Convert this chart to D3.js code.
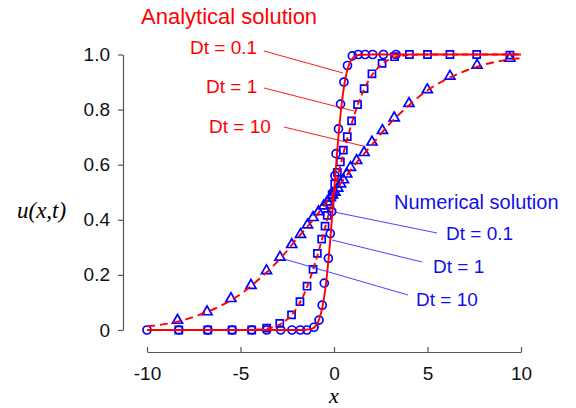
<!DOCTYPE html>
<html>
<head>
<meta charset="utf-8">
<script src="https://cdn.jsdelivr.net/npm/d3@7"></script>
<style>
  body { margin: 0; background: #fff; }
  svg text { font-family: "Liberation Sans", Arial, sans-serif; }
</style>
</head>
<body>
<svg width="576" height="408"></svg>
<script>
// analytical solutions
const line01X = [-10, -2, -1.5, -1.2, -1, -0.8, -0.6, -0.4, -0.2, 0, 0.2, 0.4, 0.6, 0.8, 1, 1.2, 1.5, 2, 10];
const line01U = [0, 0, 0.001, 0.004, 0.013, 0.037, 0.09, 0.186, 0.327, 0.5, 0.673, 0.814, 0.91, 0.963, 0.987, 0.996, 0.999, 1, 1];

const line1X = [-10, -5, -4, -3, -2.5, -2, -1.5, -1, -0.5, 0, 0.5, 1, 1.5, 2, 2.5, 3, 4, 5, 10];
const line1U = [0, 0, 0.002, 0.017, 0.039, 0.079, 0.146, 0.245, 0.365, 0.5, 0.64, 0.762, 0.857, 0.922, 0.961, 0.983, 0.998, 1, 1];

const line10X = [-10, -9, -8, -7, -6, -5, -4, -3, -2, -1, 0, 1, 2, 3, 4, 5, 6, 7, 8, 9, 10];
const line10U = [0.013, 0.022, 0.037, 0.06, 0.09, 0.13, 0.185, 0.25, 0.33, 0.41, 0.5, 0.59, 0.67, 0.75, 0.815, 0.87, 0.91, 0.94, 0.963, 0.978, 0.987];

// numerical solutions (markers)
const circX = [-10, -8.3, -6.75, -5.45, -4.4, -3.6, -2.85, -2.25, -1.8, -1.45, -1.07, -0.8, -0.63, -0.52, -0.3, -0.2, -0.12, -0.04, 0.05, 0.11, 0.24, 0.35, 0.53, 0.72, 0.98, 1.3, 1.66, 2.07, 2.64, 3.32];
const circU = [0, 0, 0, 0, 0, 0, 0, 0, 0, 0, 0.01, 0.036, 0.09, 0.17, 0.26, 0.35, 0.43, 0.5, 0.56, 0.64, 0.73, 0.82, 0.9, 0.96, 0.995, 1, 1, 1, 1, 1];

const sqX = [-8.3, -6.75, -5.45, -4.4, -3.6, -2.9, -2.27, -1.82, -1.44, -1.12, -0.89, -0.66, -0.48, -0.36, -0.22, -0.1, 0.04, 0.18, 0.34, 0.5, 0.71, 0.94, 1.26, 1.61, 2.03, 2.57, 3.24, 4.03, 5.0, 6.2, 7.63, 9.41];
const sqU = [0, 0, 0, 0, 0.007, 0.024, 0.055, 0.103, 0.159, 0.22, 0.278, 0.33, 0.377, 0.416, 0.455, 0.49, 0.53, 0.572, 0.61, 0.653, 0.702, 0.759, 0.818, 0.876, 0.93, 0.968, 0.992, 1, 1, 1, 1, 0.998];

const triX = [-8.37, -6.79, -5.51, -4.44, -3.61, -2.89, -2.26, -1.79, -1.42, -1.12, -0.83, -0.55, -0.36, -0.2, -0.08, 0.05, 0.2, 0.35, 0.5, 0.68, 0.88, 1.21, 1.61, 2.03, 2.59, 3.22, 4.01, 4.99, 6.2, 7.65, 9.4];
const triU = [0.035, 0.066, 0.114, 0.162, 0.215, 0.264, 0.31, 0.347, 0.381, 0.408, 0.429, 0.45, 0.465, 0.48, 0.49, 0.5, 0.515, 0.53, 0.545, 0.566, 0.59, 0.615, 0.644, 0.682, 0.724, 0.77, 0.822, 0.872, 0.921, 0.961, 0.986];

const xTicks = [-10, -5, 0, 5, 10];
const yTicks = [0, 0.2, 0.4, 0.6, 0.8, 1.0];

const red = '#ff0000';
const blue = '#0000ff';
const textBlue = '#1010e8';

const zip = (xs, us) => xs.map((x, i) => ({ x, u: us[i] }));

const svg = d3.select('svg');

const xScale = d3.scaleLinear().domain([-10, 10]).range([147, 521]);
const yScale = d3.scaleLinear().domain([0, 1]).range([330, 54.5]);

// y axis
svg.append('g')
    .attr('transform', 'translate(123, 0)')
    .call(d3.axisLeft(yScale)
        .tickValues(yTicks)
        .tickSize(5)
        .tickSizeOuter(0)
        .tickPadding(8)
        .tickFormat(d => d === 0 ? '0' : d3.format('.1f')(d)));

// x axis, ticks pointing up
const xAxis = svg.append('g')
    .attr('transform', 'translate(0, 352)')
    .call(d3.axisBottom(xScale)
        .tickValues(xTicks)
        .tickSize(-5)
        .tickSizeOuter(0)
        .tickPadding(15)
        .tickFormat(d3.format('d')));

svg.selectAll('.domain, .tick line')
    .attr('stroke', '#555')
    .attr('stroke-width', 1.2);

svg.selectAll('.tick text')
    .attr('fill', '#111')
    .style('font-family', '"Liberation Sans", Arial, sans-serif')
    .style('font-size', '19px');

xAxis.selectAll('.tick text').text(d => d < 0 ? '-' + Math.abs(d) : d);

svg.append('text')
    .attr('x', 17)
    .attr('y', 218)
    .style('font-family', '"Liberation Serif", "Times New Roman", serif')
    .style('font-style', 'italic')
    .style('font-size', '23px')
    .text('u(x,t)');

svg.append('text')
    .attr('x', 334)
    .attr('y', 403)
    .attr('text-anchor', 'middle')
    .style('font-family', '"Liberation Serif", "Times New Roman", serif')
    .style('font-style', 'italic')
    .style('font-size', '22px')
    .text('x');

// markers
const markers = svg.append('g')
    .attr('fill', 'none')
    .attr('stroke', blue)
    .attr('stroke-width', 1.7);

markers.selectAll('.circ')
    .data(zip(circX, circU))
    .enter()
    .append('circle')
    .attr('cx', d => xScale(d.x))
    .attr('cy', d => yScale(d.u))
    .attr('r', 4);

markers.selectAll('.sq')
    .data(zip(sqX, sqU))
    .enter()
    .append('path')
    .attr('transform', d => `translate(${xScale(d.x)}, ${yScale(d.u)})`)
    .attr('d', d3.symbol().type(d3.symbolSquare).size(50));

markers.selectAll('.tri')
    .data(zip(triX, triU))
    .enter()
    .append('path')
    .attr('transform', d => `translate(${xScale(d.x)}, ${yScale(d.u)})`)
    .attr('d', d3.symbol().type(d3.symbolTriangle).size(44));

// analytical lines
const line = d3.line()
    .x(d => xScale(d.x))
    .y(d => yScale(d.u))
    .curve(d3.curveMonotoneX);

svg.append('path')
    .datum(zip(line01X, line01U))
    .attr('fill', 'none')
    .attr('stroke', red)
    .attr('stroke-width', 1.9)
    .attr('d', line);

svg.append('path')
    .datum(zip(line1X, line1U))
    .attr('fill', 'none')
    .attr('stroke', red)
    .attr('stroke-width', 1.9)
    .attr('stroke-dasharray', '6,4')
    .attr('d', line);

svg.append('path')
    .datum(zip(line10X, line10U))
    .attr('fill', 'none')
    .attr('stroke', red)
    .attr('stroke-width', 1.9)
    .attr('stroke-dasharray', '8,5')
    .attr('d', line);

// annotations
const label = (x, y, text, color, size) => svg.append('text')
    .attr('x', x)
    .attr('y', y)
    .attr('fill', color)
    .style('font-size', size + 'px')
    .text(text);

const leader = (x1, y1, x2, y2, color) => svg.append('line')
    .attr('x1', x1).attr('y1', y1)
    .attr('x2', x2).attr('y2', y2)
    .attr('stroke', color)
    .attr('stroke-width', 0.9);

label(141, 24, 'Analytical solution', red, 22);
label(190, 54, 'Dt = 0.1', red, 19);
label(206, 93, 'Dt = 1', red, 19);
label(209, 133, 'Dt = 10', red, 19);
leader(264, 51, 343, 73, red);
leader(264, 88, 354, 111, red);
leader(284, 127, 363, 146, red);

label(394, 209, 'Numerical solution', textBlue, 20);
label(446, 240, 'Dt = 0.1', textBlue, 19);
label(433, 273, 'Dt = 1', textBlue, 19);
label(416, 306, 'Dt = 10', textBlue, 19);
leader(334, 212, 437, 233, '#3030ff');
leader(332, 240, 422, 262, '#3030ff');
leader(284, 259, 408, 295, '#3030ff');
</script>
</body>
</html>
